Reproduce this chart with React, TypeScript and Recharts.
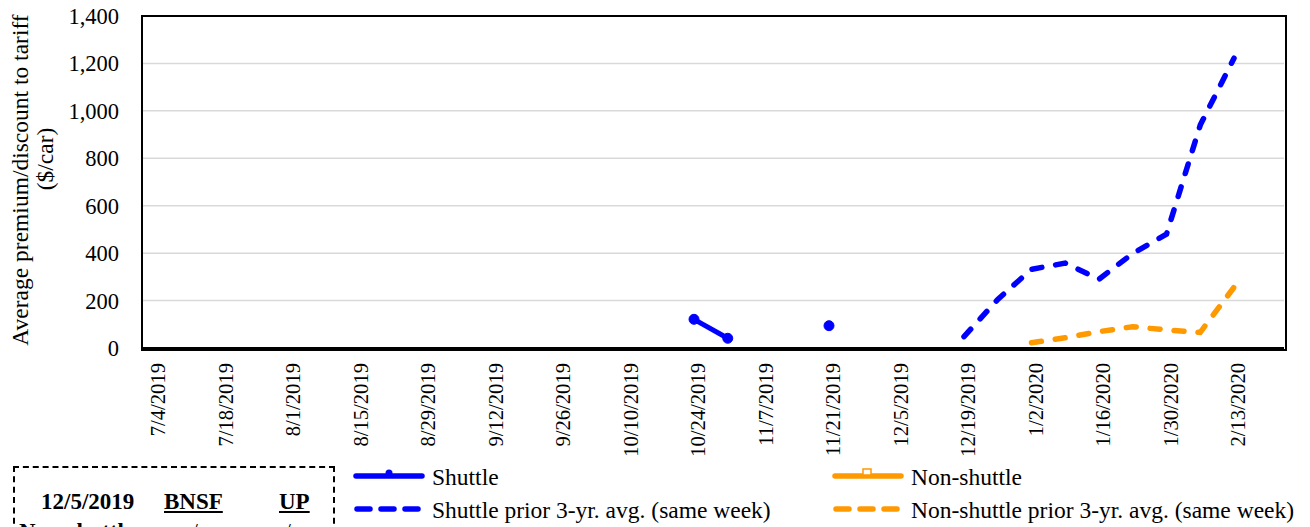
import React from "react";
import { LineChart, Line, XAxis, YAxis, CartesianGrid } from "recharts";

const weeks: string[] = [
  "7/4/2019", "7/11/2019", "7/18/2019", "7/25/2019", "8/1/2019", "8/8/2019", "8/15/2019", "8/22/2019",
  "8/29/2019", "9/5/2019", "9/12/2019", "9/19/2019", "9/26/2019", "10/3/2019", "10/10/2019", "10/17/2019",
  "10/24/2019", "10/31/2019", "11/7/2019", "11/14/2019", "11/21/2019", "11/28/2019", "12/5/2019", "12/12/2019",
  "12/19/2019", "12/26/2019", "1/2/2020", "1/9/2020", "1/16/2020", "1/23/2020", "1/30/2020", "2/6/2020", "2/13/2020",
];

const N = null;
const shuttle: (number | null)[] = [
  N, N, N, N, N, N, N, N, N, N, N, N, N, N, N, N,
  121, 41, N, N, 94, N, N, N, N, N, N, N, N, N, N, N, N,
];
const nonShuttle: (number | null)[] = weeks.map(() => null);
const shuttlePrior: (number | null)[] = [
  N, N, N, N, N, N, N, N, N, N, N, N, N, N, N, N,
  N, N, N, N, N, N, N, N, 48, 205, 332, 358, 290, 399, 480, 940, 1222,
];
const nonShuttlePrior: (number | null)[] = [
  N, N, N, N, N, N, N, N, N, N, N, N, N, N, N, N,
  N, N, N, N, N, N, N, N, N, N, 22, 43, 69, 90, 76, 66, 256,
];
const yTicks: number[] = [0, 200, 400, 600, 800, 1000, 1200, 1400];

const data = weeks.map((w, i) => ({
  week: w,
  shuttle: shuttle[i],
  nonShuttle: nonShuttle[i],
  shuttlePrior: shuttlePrior[i],
  nonShuttlePrior: nonShuttlePrior[i],
}));

const FONT = "'Liberation Serif', 'Times New Roman', serif";
const BLUE = "#0000FF";
const ORANGE = "#FF9900";

const XTick = (props: any) => {
  const { x, y, payload } = props;
  return (
    <text
      transform={`translate(${x + 4},${y}) rotate(-90)`}
      textAnchor="end"
      dy="0.35em"
      style={{ fontFamily: FONT, fontSize: 20.6 }}
      fill="#000"
    >
      {payload.value}
    </text>
  );
};

const fmt = (v: number) => v.toLocaleString("en-US");

const txt = { fontFamily: FONT, fontSize: 23.5 };

export default function App() {
  return (
    <div style={{ position: "absolute", left: 0, top: 0, width: 1310, height: 527, overflow: "hidden", background: "#fff", fontFamily: FONT }}>
      <LineChart
        width={1310}
        height={527}
        data={data}
        margin={{ top: 16, right: 26, left: 0, bottom: 0 }}
        style={{ fontFamily: FONT }}
      >
        <CartesianGrid vertical={false} stroke="#d9d9d9" strokeWidth={1.5} />
        <XAxis
          dataKey="week"
          interval={1}
          height={179}
          padding={{ left: 12, right: 50 }}
          tickLine={false}
          tickSize={0}
          tickMargin={15}
          axisLine={{ stroke: "#000", strokeWidth: 2 }}
          tick={<XTick />}
        />
        <YAxis
          width={142}
          domain={[0, 1400]}
          ticks={yTicks}
          tickFormatter={fmt}
          tickLine={false}
          tickSize={0}
          tickMargin={23}
          axisLine={{ stroke: "#000", strokeWidth: 2 }}
          tick={{ fill: "#000", style: { fontFamily: FONT, fontSize: 22.5 } } as any}
        />
        <Line
          dataKey="shuttle"
          stroke={BLUE}
          strokeWidth={5}
          dot={{ r: 5, fill: BLUE, stroke: BLUE, strokeWidth: 1 }}
          activeDot={false}
          isAnimationActive={false}
        />
        <Line
          dataKey="nonShuttle"
          stroke={ORANGE}
          strokeWidth={5}
          dot={false}
          activeDot={false}
          isAnimationActive={false}
        />
        <Line
          dataKey="shuttlePrior"
          stroke={BLUE}
          strokeWidth={5.5}
          strokeDasharray="10 14"
          strokeLinecap="round"
          dot={false}
          activeDot={false}
          isAnimationActive={false}
        />
        <Line
          dataKey="nonShuttlePrior"
          stroke={ORANGE}
          strokeWidth={5.5}
          strokeDasharray="10 14"
          strokeLinecap="round"
          dot={false}
          activeDot={false}
          isAnimationActive={false}
        />
      </LineChart>

      {/* plot border */}
      <div style={{ position: "absolute", left: 141, top: 15, width: 1142, height: 332, border: "2px solid #000", pointerEvents: "none" }} />

      {/* y-axis title + legend */}
      <svg width={1310} height={527} style={{ position: "absolute", left: 0, top: 0, pointerEvents: "none" }}>
        <text transform="translate(20,180) rotate(-90)" textAnchor="middle" dominantBaseline="central" style={txt} fill="#000">
          Average premium/discount to tariff
        </text>
        <text transform="translate(45,159) rotate(-90)" textAnchor="middle" dominantBaseline="central" style={txt} fill="#000">
          ($/car)
        </text>

        {/* Legend row 1 */}
        <line x1={356} y1={476} x2={422} y2={476} stroke={BLUE} strokeWidth={5.5} strokeLinecap="round" />
        <circle cx={389} cy={473} r={3.5} fill={BLUE} />
        <text x={432} y={477} dominantBaseline="central" style={txt} fill="#000">Shuttle</text>

        <line x1={835} y1={476} x2={901} y2={476} stroke={ORANGE} strokeWidth={5.5} strokeLinecap="round" />
        <rect x={863} y={469} width={8} height={6} fill="#fff" stroke={ORANGE} strokeWidth={1.5} />
        <text x={911} y={477} dominantBaseline="central" style={txt} fill="#000">Non-shuttle</text>

        {/* Legend row 2 */}
        <line x1={357} y1={509} x2={422} y2={509} stroke={BLUE} strokeWidth={5.5} strokeLinecap="round" strokeDasharray="13 11" />
        <text x={432} y={510} dominantBaseline="central" style={txt} fill="#000">Shuttle prior 3-yr. avg. (same week)</text>

        <line x1={836} y1={509} x2={901} y2={509} stroke={ORANGE} strokeWidth={5.5} strokeLinecap="round" strokeDasharray="13 11" />
        <text x={911} y={510} dominantBaseline="central" style={txt} fill="#000">Non-shuttle prior 3-yr. avg. (same week)</text>
      </svg>

      {/* info table */}
      <div style={{ position: "absolute", left: 13, top: 466, width: 322, height: 120, border: "2px dashed #000", boxSizing: "border-box" }}>
        <div style={{ position: "absolute", left: 0, top: 0, width: "100%", fontFamily: FONT, fontSize: 23, fontWeight: "bold", lineHeight: "1" }}>
          <span style={{ position: "absolute", left: 26, top: 22 }}>12/5/2019</span>
          <span style={{ position: "absolute", left: 149, top: 22, textDecoration: "underline" }}>BNSF</span>
          <span style={{ position: "absolute", left: 264, top: 22, textDecoration: "underline" }}>UP</span>
          <span style={{ position: "absolute", left: 4, top: 52 }}>Non-shuttle</span>
          <span style={{ position: "absolute", left: 165, top: 52, fontWeight: "normal" }}>n/a</span>
          <span style={{ position: "absolute", left: 258, top: 52, fontWeight: "normal" }}>n/a</span>
        </div>
      </div>
    </div>
  );
}
